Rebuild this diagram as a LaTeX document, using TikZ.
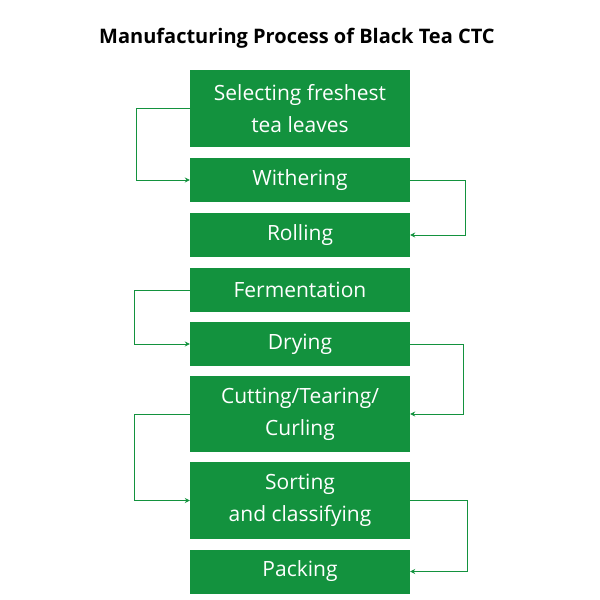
\documentclass[tikz,border=0pt]{standalone}
\usepackage{fontspec}
\setmainfont{Open Sans}
\usetikzlibrary{arrows.meta}
\definecolor{teagreen}{RGB}{19,146,62}
\begin{document}
\begin{tikzpicture}[x=1pt,y=-1pt]
	\tikzset{stage/.style={fill=teagreen,text=white,minimum width=220pt,align=center,inner sep=0pt,font=\fontsize{21}{32}\selectfont},
		link/.style={draw=teagreen,thick,-{Stealth[length=5pt,width=5pt]}}}
	\useasboundingbox (0,0) rectangle (600,600);
	\node [font=\bfseries\fontsize{20}{24}\selectfont] (title) at (297,38) {Manufacturing Process of Black Tea CTC};
	\node [stage,minimum height=77pt] (select) at (300,108.5) {Selecting freshest\\tea leaves};
	\node [stage,minimum height=44pt] (wither) at (300,180) {Withering};
	\node [stage,minimum height=44pt] (roll) at (300,235) {Rolling};
	\node [stage,minimum height=44pt] (ferment) at (300,290) {Fermentation};
	\node [stage,minimum height=44pt] (dry) at (300,344) {Drying};
	\node [stage,minimum height=76pt] (cut) at (300,414) {Cutting/Tearing/\\Curling};
	\node [stage,minimum height=77pt] (sort) at (300,500.5) {Sorting\\and classifying};
	\node [stage,minimum height=44pt] (pack) at (300,571.5) {Packing};
	% connectors
	\draw [link] (select.west) -- ++(-53,0) |- (wither.west);
	\draw [link] (wither.east) -- ++(55,0) |- (roll.east);
	\draw [link] (ferment.west) -- ++(-55,0) |- (dry.west);
	\draw [link] (dry.east) -- ++(53,0) |- (cut.east);
	\draw [link] (cut.west) -- ++(-55,0) |- (sort.west);
	\draw [link] (sort.east) -- ++(57,0) |- (pack.east);
\end{tikzpicture}
\end{document}
